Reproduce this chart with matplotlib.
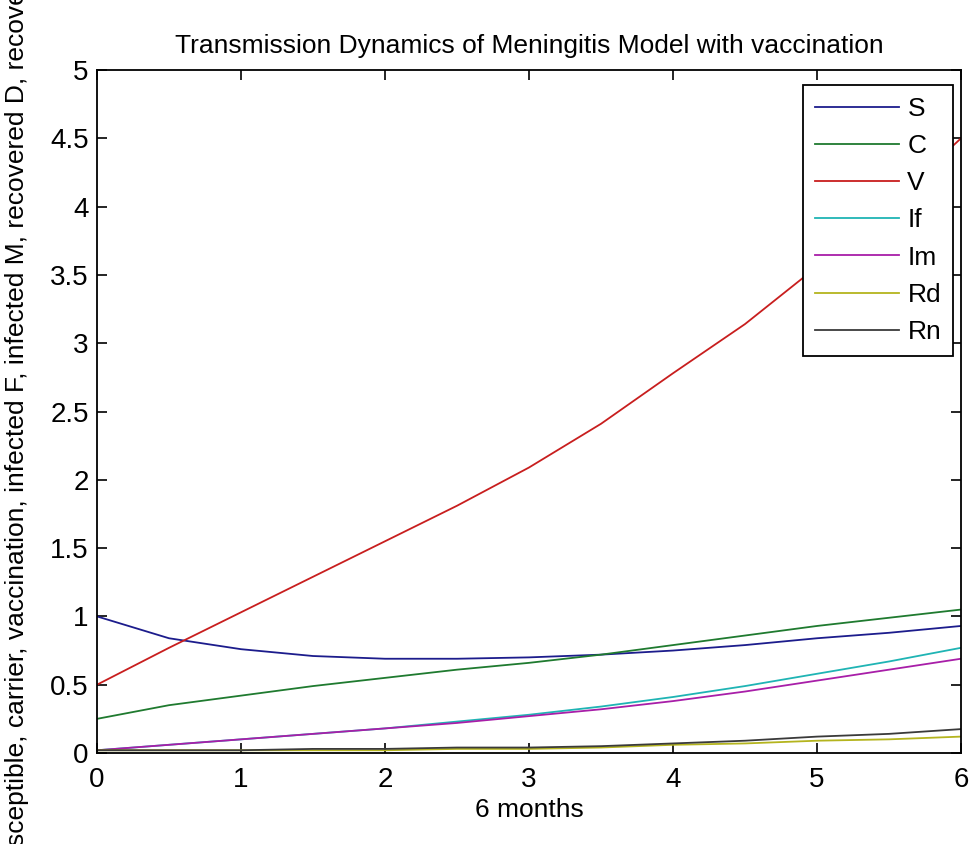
import matplotlib
matplotlib.use("Agg")
import matplotlib.pyplot as plt
import numpy as np

plt.rcParams['font.family'] = ['Liberation Sans', 'DejaVu Sans']

t = [0, 0.5, 1, 1.5, 2, 2.5, 3, 3.5, 4, 4.5, 5, 5.5, 6]
S  = [1.00, 0.84, 0.76, 0.71, 0.69, 0.69, 0.70, 0.72, 0.75, 0.79, 0.84, 0.88, 0.93]
C  = [0.25, 0.35, 0.42, 0.49, 0.55, 0.61, 0.66, 0.72, 0.79, 0.86, 0.93, 0.99, 1.05]
V  = [0.50, 0.77, 1.03, 1.29, 1.55, 1.81, 2.09, 2.41, 2.78, 3.14, 3.56, 4.01, 4.50]
If = [0.02, 0.06, 0.10, 0.14, 0.18, 0.23, 0.28, 0.34, 0.41, 0.49, 0.58, 0.67, 0.77]
Im = [0.02, 0.06, 0.10, 0.14, 0.18, 0.22, 0.27, 0.32, 0.38, 0.45, 0.53, 0.61, 0.69]
Rd = [0.02, 0.02, 0.02, 0.02, 0.02, 0.03, 0.03, 0.04, 0.06, 0.07, 0.09, 0.10, 0.12]
Rn = [0.02, 0.02, 0.02, 0.03, 0.03, 0.04, 0.04, 0.05, 0.07, 0.09, 0.12, 0.14, 0.175]
names = ['S', 'C', 'V', 'If', 'Im', 'Rd', 'Rn']
colors = ['#1c1c8c', '#1f7a2f', '#c81e1e', '#1fb4b4', '#a81ea8', '#b4b41e', '#3a3a3a']

fig = plt.figure(figsize=(9.71, 8.44), dpi=100)
ax = fig.add_axes([97/971, 1 - 753/844, 864/971, 683/844])
for y, n, c in zip([S, C, V, If, Im, Rd, Rn], names, colors):
    ax.plot(t, y, color=c, lw=1.3, label=n)

ax.set_xlim(0, 6)
ax.set_ylim(0, 5)
ax.set_xticks(range(0, 7))
ax.set_yticks(np.arange(0, 5.01, 0.5))
ax.set_yticklabels(['0', '0.5', '1', '1.5', '2', '2.5', '3', '3.5', '4', '4.5', '5'])
ax.tick_params(direction='in', top=True, right=True, length=7, width=1.2,
               labelsize=20, colors='black')
ax.tick_params(axis='y', pad=6)
ax.tick_params(axis='x', pad=10)
for sp in ax.spines.values():
    sp.set_linewidth(1.3)

ax.set_title('Transmission Dynamics of Meningitis Model with vaccination', fontsize=19, pad=12)
ax.set_xlabel('6 months', fontsize=19, labelpad=4)
ax.set_ylabel('susceptible, carrier, vaccination, infected F, infected M, recovered D, recovered N',
              fontsize=19)
ax.yaxis.set_label_coords(-68/864, 0.5 + 12/683)

leg = ax.legend(loc='upper right', bbox_to_anchor=(953/971, 1 - 85/844), bbox_transform=fig.transFigure,
                fontsize=19, frameon=True, fancybox=False, handlelength=3.2, handletextpad=0.3,
                labelspacing=0.5, borderpad=0.45, borderaxespad=0)
leg.get_frame().set_edgecolor('black')
leg.get_frame().set_linewidth(1.3)
leg.get_frame().set_alpha(1)

fig.savefig('out.png', dpi=100)
